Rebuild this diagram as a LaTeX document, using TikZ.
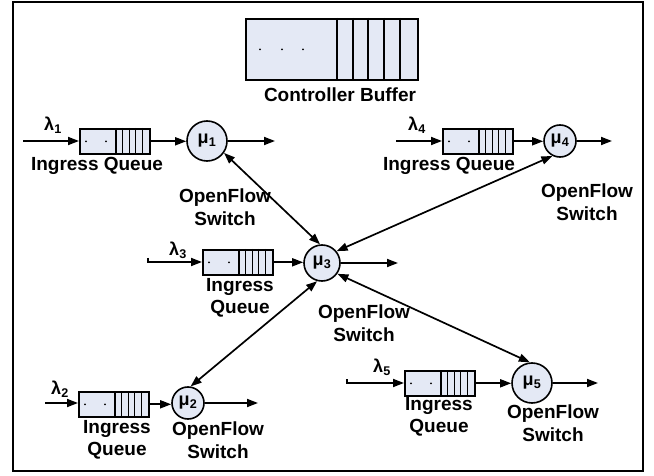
\documentclass[tikz,border=0pt]{standalone}
\usepackage{fontspec}
\setmainfont{Liberation Sans}
\usetikzlibrary{arrows.meta}
\definecolor{qfill}{RGB}{228,233,245}
\newcommand{\ingressq}[3]{%
  \node[qbox, anchor=north west] (#1) at (#2,#3) {};
  \foreach \d in {37,43.6,50.2,56.8,63.4}
    \draw[sep] ([xshift=\d pt]#1.north west) -- ([xshift=\d pt]#1.south west);
  \fill ([xshift=7pt]#1.west) circle (1pt);
  \fill ([xshift=27pt]#1.west) circle (1pt);
}
\begin{document}
\begin{tikzpicture}[x=1pt,y=-1pt,
  lbl/.style={font=\fontsize{19}{22.5}\selectfont\bfseries, align=center, inner sep=0pt},
  lam/.style={font=\fontsize{18}{20}\selectfont\bfseries, inner sep=0pt},
  qbox/.style={draw, line width=1.6pt, fill=qfill, minimum width=70pt, minimum height=25pt, inner sep=0pt},
  sw/.style={circle, draw, line width=1.6pt, fill=qfill, inner sep=0pt, font=\fontsize{18}{20}\selectfont\bfseries},
  flow/.style={line width=1.7pt, -{Triangle[length=11pt,width=8pt]}},
  link/.style={line width=1.7pt, {Triangle[length=11pt,width=8pt]}-{Triangle[length=11pt,width=8pt]}},
  sep/.style={line width=1.3pt}]
\useasboundingbox (0,0) rectangle (654,476);
\draw[line width=2.6pt] (13,2) rectangle (643,471);

% controller buffer
\node[qbox, anchor=north west, minimum width=172pt, minimum height=61pt] (buf) at (245,18) {};
\foreach \d in {92,108,123,139,155}
  \draw[sep] ([xshift=\d pt]buf.north west) -- ([xshift=\d pt]buf.south west);
\fill ([xshift=15pt]buf.west) circle (1pt);
\fill ([xshift=37pt]buf.west) circle (1pt);
\fill ([xshift=58pt]buf.west) circle (1pt);
\node[lbl] (buflbl) at (340,95) {Controller Buffer};

% queues
\ingressq{q1}{79}{128}
\ingressq{q4}{442}{128}
\ingressq{q3}{202}{249}
\ingressq{q2}{78}{391}
\ingressq{q5}{404}{370}

% switches
\node[sw, minimum size=40pt] (m1) at (207,141) {μ\textsubscript{1}};
\node[sw, minimum size=32pt] (m4) at (560,141) {μ\textsubscript{4}};
\node[sw, minimum size=36pt] (m3) at (322,263) {μ\textsubscript{3}};
\node[sw, minimum size=32pt] (m2) at (188,403) {μ\textsubscript{2}};
\node[sw, minimum size=40pt] (m5) at (532,383) {μ\textsubscript{5}};

% input points
\coordinate (i1) at (23,141);
\coordinate (i4) at (396,141);
\coordinate (i3) at (148,262);
\coordinate (i3t) at (148,258);
\coordinate (i2) at (45,403);
\coordinate (i5) at (347,383);
\coordinate (i5t) at (347,379);
% output points
\coordinate (o1) at (275,141);
\coordinate (o4) at (612,141);
\coordinate (o3) at (398,263);
\coordinate (o2) at (258,403);
\coordinate (o5) at (598,383);

\draw[flow] (i1) -- (i1 -| q1.west);
\draw[flow] (i4) -- (i4 -| q4.west);
\draw[flow] (i3t) -- (i3) -- (i3 -| q3.west);
\draw[flow] (i2) -- (i2 -| q2.west);
\draw[flow] (i5t) -- (i5) -- (i5 -| q5.west);

\draw[flow] (q1.east) -- (q1.east -| m1.west);
\draw[flow] (q4.east) -- (q4.east -| m4.west);
\draw[flow] (q3.east) -- (q3.east -| m3.west);
\draw[flow] (q2.east) -- (q2.east -| m2.west);
\draw[flow] (q5.east) -- (q5.east -| m5.west);

\draw[flow] (m1.east) -- (o1);
\draw[flow] (m4.east) -- (o4);
\draw[flow] (m3.east) -- (o3);
\draw[flow] (m2.east) -- (o2);
\draw[flow] (m5.east) -- (o5);

% links
\draw[link] (m1.-35) -- (m3.96);
\draw[link] (m4.-117) -- (m3.39);
\draw[link] (m3.-105) -- (m2.81);
\draw[link] (m3.-35) -- (m5.96);

% lambda labels
\node[lam] (l1) at (53,125) {λ\textsubscript{1}};
\node[lam] (l4) at (417,125) {λ\textsubscript{4}};
\node[lam] (l3) at (178,250) {λ\textsubscript{3}};
\node[lam] (l2) at (60,389) {λ\textsubscript{2}};
\node[lam] (l5) at (382,367) {λ\textsubscript{5}};

% queue labels
\node[lbl] (iq1) at (97,166) {Ingress Queue};
\node[lbl] (iq4) at (449,166) {Ingress Queue};
\node[lbl] (iq3) at (240,298) {Ingress\\Queue};
\node[lbl] (iq2) at (117,440) {Ingress\\Queue};
\node[lbl] (iq5) at (439,417) {Ingress\\Queue};

% switch labels
\node[lbl] (sw1) at (225,207) {OpenFlow\\Switch};
\node[lbl] (sw4) at (587,202) {OpenFlow\\Switch};
\node[lbl] (sw3) at (364,323) {OpenFlow\\Switch};
\node[lbl] (sw2) at (218,440) {OpenFlow\\Switch};
\node[lbl] (sw5) at (553,423) {OpenFlow\\Switch};
\end{tikzpicture}
\end{document}
